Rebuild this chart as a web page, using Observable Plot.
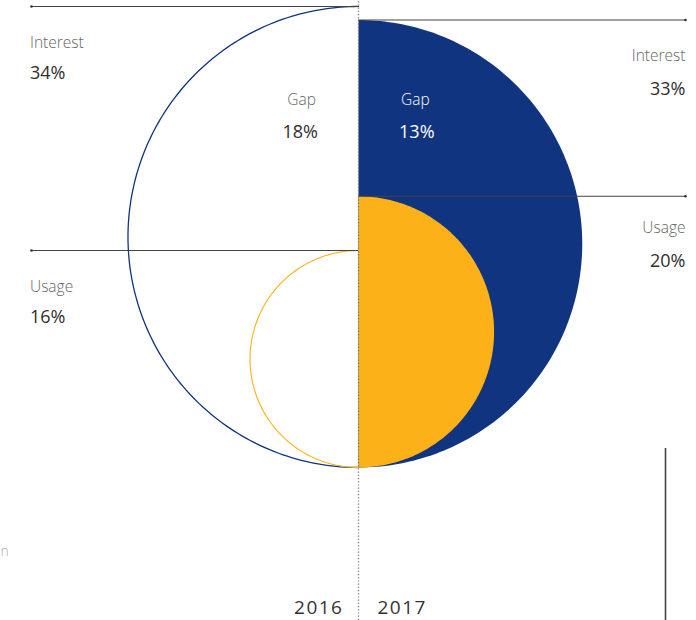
<!DOCTYPE html>
<html>
<head>
<meta charset="utf-8">
<script src="https://cdn.jsdelivr.net/npm/d3@7"></script>
<script src="https://cdn.jsdelivr.net/npm/@observablehq/plot@0.6"></script>
<style>
  html, body { margin: 0; padding: 0; background: #fff; }
  #chart svg { display: block; font-family: "Open Sans", "Noto Sans", sans-serif; }
</style>
</head>
<body>
<div id="chart"></div>
<script>
// ---- data ----
const years = ["2016", "2017"];
const interest = [34, 33];
const usage = [16, 20];
const gap = [18, 13];
const labelNames = ["Interest", "Usage", "Gap"];

// ---- layout ----
const W = 696, H = 620;
const k = 6.78;              // px per percentage point of radius
const cx = 358, base = 467;  // centre line and common bottom
const navy = "#10347f", yellow = "#fbb117";

function halfArc(value, side) {
  const r = value, n = 160, pts = [];
  for (let i = 0; i <= n; i++) {
    const t = Math.PI * i / n;
    pts.push({x: side * r * Math.sin(t), y: r - r * Math.cos(t)});
  }
  return pts;
}

const xL = -(cx - 31) / k, xR = (685 - cx) / k;

const leaders = [
  {year: years[0], name: labelNames[0], v: interest[0], side: -1},
  {year: years[0], name: labelNames[1], v: usage[0], side: -1},
  {year: years[1], name: labelNames[0], v: interest[1], side: 1},
  {year: years[1], name: labelNames[1], v: usage[1], side: 1}
];
const leftL = leaders.filter(d => d.side < 0);
const rightL = leaders.filter(d => d.side > 0);
const gaps = years.map((y, i) => ({year: y, v: gap[i], side: i === 0 ? -1 : 1}));

const yBot = -(H - base) / k, yTop = base / k;

function sideLabels(data, x, anchor, dyName, dyVal) {
  return [
    Plot.text(data, {x: () => x, y: d => 2 * d.v, text: "name", textAnchor: anchor,
      dy: dyName, fill: "#666", fontSize: 15.5, fontWeight: 300}),
    Plot.text(data, {x: () => x, y: d => 2 * d.v, text: d => d.v + "%", textAnchor: anchor,
      dy: dyVal, fill: "#2e2e2e", fontSize: 18, fontWeight: 400})
  ];
}

const chart = Plot.plot({
  width: W, height: H,
  margin: 0,
  x: {domain: [-cx / k, (W - cx) / k], range: [0, W], axis: null},
  y: {domain: [yBot, yTop], range: [H, 0], axis: null},
  marks: [
    // 2017 filled halves
    Plot.line(halfArc(interest[1], 1), {x: "x", y: "y", fill: navy, stroke: "none"}),
    Plot.line(halfArc(usage[1], 1), {x: "x", y: "y", fill: yellow, stroke: "none"}),
    // 2016 outlines
    Plot.line(halfArc(interest[0], -1), {x: "x", y: "y", stroke: navy, strokeWidth: 1.3}),
    Plot.line(halfArc(usage[0], -1), {x: "x", y: "y", stroke: yellow, strokeWidth: 1.1}),
    // leader lines at tops of the half circles
    Plot.ruleY(leaders, {
      y: d => 2 * d.v,
      x1: d => d.side < 0 ? xL : 0,
      x2: d => d.side < 0 ? 0 : xR,
      stroke: "#444", strokeWidth: 1.1
    }),
    Plot.dot(leaders, {
      x: d => d.side < 0 ? xL : xR, y: d => 2 * d.v, r: 1.3, fill: "#333", stroke: "none"
    }),
    // centre dotted line
    Plot.ruleX([0], {y1: yBot, y2: yTop, stroke: "#777", strokeDasharray: "1.2,2", strokeWidth: 1.3}),
    // right vertical rule
    Plot.ruleX([(665 - cx) / k], {y1: yBot, y2: (base - 448) / k, stroke: "#444", strokeWidth: 1.6}),
    // side labels
    ...sideLabels(leftL.filter(d => d.name === "Interest"), xL - 1.5 / k, "start", 37, 67),
    ...sideLabels(leftL.filter(d => d.name === "Usage"), xL - 1.5 / k, "start", 36, 67),
    ...sideLabels(rightL.filter(d => d.name === "Interest"), xR, "end", 36, 69),
    ...sideLabels(rightL.filter(d => d.name === "Usage"), xR, "end", 32, 65),
    // gap labels
    Plot.text(gaps, {
      x: d => d.side * 8.4, y: (base - 100) / k, text: () => labelNames[2],
      fill: d => d.side < 0 ? "#666" : "#ffffff", fontSize: 15.5, fontWeight: 300
    }),
    Plot.text(gaps, {
      x: d => d.side * 8.6, y: (base - 132) / k, text: d => d.v + "%",
      fill: d => d.side < 0 ? "#2e2e2e" : "#ffffff", fontSize: 18, fontWeight: 400
    }),
    // years
    Plot.text([years[0]], {x: () => -15 / k, y: -(607 - base) / k, text: d => d,
      textAnchor: "end", fill: "#333", fontSize: 19}),
    Plot.text([years[1]], {x: () => 19 / k, y: -(607 - base) / k, text: d => d,
      textAnchor: "start", fill: "#333", fontSize: 19}),
    // text at left edge
    Plot.text(["n"], {x: -cx / k, y: -(551 - base) / k, text: d => d, textAnchor: "start",
      dx: 0, fill: "#b0b0b0", fontSize: 14, fontWeight: 300})
  ]
});
d3.select(chart).selectAll("text")
  .filter(function () { return years.includes(this.textContent); })
  .attr("letter-spacing", "1.5px");
document.getElementById("chart").append(chart);
</script>
</body>
</html>
